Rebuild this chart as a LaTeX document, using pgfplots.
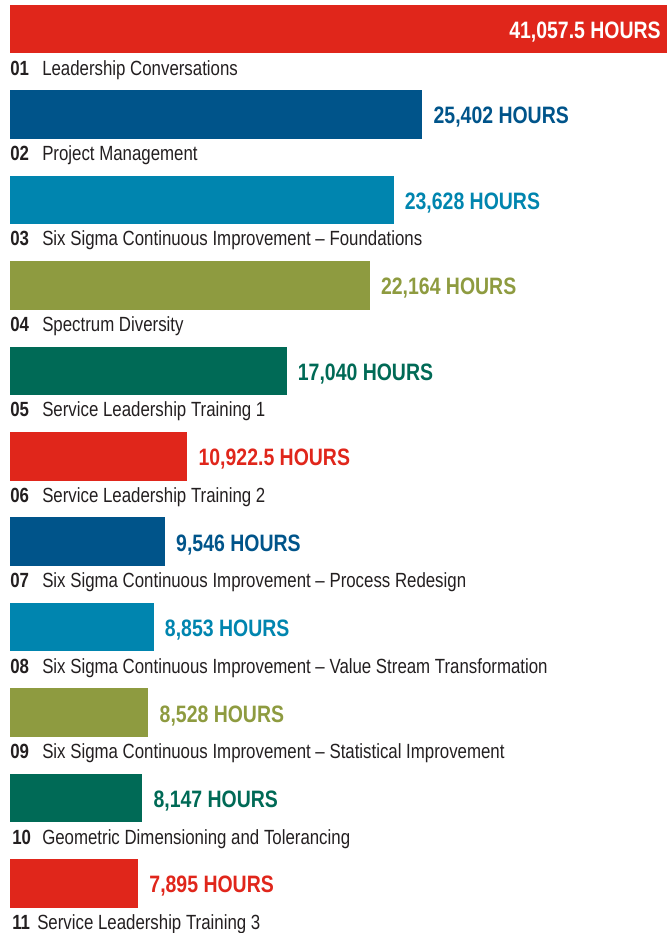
\documentclass[border=0pt]{standalone}
\usepackage{fontspec}
\setmainfont{Liberation Sans}[FakeStretch=0.82]
\usepackage{pgfplots}
\pgfplotsset{compat=1.18}

\definecolor{cred}{RGB}{224,38,27}
\definecolor{cblue}{RGB}{0,84,138}
\definecolor{clight}{RGB}{0,133,175}
\definecolor{colive}{RGB}{142,155,64}
\definecolor{cgreen}{RGB}{0,106,86}
\definecolor{ctext}{RGB}{35,31,32}

\newcommand\labfont{\fontsize{15.4pt}{18pt}\selectfont}
\newcommand\valfont{\fontsize{17.8pt}{20pt}\selectfont\bfseries}

\begin{document}
\begin{tikzpicture}[
  lab/.style={anchor=base west, inner sep=0pt, font=\labfont, text=ctext, yshift=-1.5pt},
  num/.style={anchor=base west, inner sep=0pt, font=\labfont\bfseries, text=ctext, yshift=-1.5pt}]
\begin{axis}[scale only axis, width=500.25pt, height=699.75pt,
  xmin=-616, xmax=40471, ymin=0, ymax=933, y dir=reverse, hide axis,
  xbar, bar width=48.5, bar shift=0, point meta=explicit symbolic,
  hbar/.style={draw=none, fill=#1, nodes near coords,
    every node near coord/.append style={anchor=base west, inner sep=0pt,
      xshift=8.25pt, yshift=-7.1pt, font=\valfont, text=#1}}]

% hours per course, bar centre in picture rows
\addplot[draw=none, fill=cred] coordinates {(41057.5,29) [{}]};
\addplot[hbar=cblue]  coordinates {(25402,114.45) [{25,402 HOURS}]};
\addplot[hbar=clight] coordinates {(23628,199.9) [{23,628 HOURS}]};
\addplot[hbar=colive] coordinates {(22164,285.35) [{22,164 HOURS}]};
\addplot[hbar=cgreen] coordinates {(17040,370.8) [{17,040 HOURS}]};
\addplot[hbar=cred]   coordinates {(10922.5,456.25) [{10,922.5 HOURS}]};
\addplot[hbar=cblue]  coordinates {(9546,541.7) [{9,546 HOURS}]};
\addplot[hbar=clight] coordinates {(8853,627.15) [{8,853 HOURS}]};
\addplot[hbar=colive] coordinates {(8528,712.6) [{8,528 HOURS}]};
\addplot[hbar=cgreen] coordinates {(8147,798.05) [{8,147 HOURS}]};
\addplot[hbar=cred]   coordinates {(7895,883.5) [{7,895 HOURS}]};

\node[anchor=base east, inner sep=0pt, font=\valfont, text=white, yshift=-7.1pt]
  at (axis cs:40100,29) {41,057.5 HOURS};

\node[num] at (axis cs:0,73) {01};
\node[lab] at (axis cs:1971,73) {Leadership Conversations};
\node[num] at (axis cs:0,158.45) {02};
\node[lab] at (axis cs:1971,158.45) {Project Management};
\node[num] at (axis cs:0,243.9) {03};
\node[lab] at (axis cs:1971,243.9) {Six Sigma Continuous Improvement – Foundations};
\node[num] at (axis cs:0,329.35) {04};
\node[lab] at (axis cs:1971,329.35) {Spectrum Diversity};
\node[num] at (axis cs:0,414.8) {05};
\node[lab] at (axis cs:1971,414.8) {Service Leadership Training 1};
\node[num] at (axis cs:0,500.25) {06};
\node[lab] at (axis cs:1971,500.25) {Service Leadership Training 2};
\node[num] at (axis cs:0,585.7) {07};
\node[lab] at (axis cs:1971,585.7) {Six Sigma Continuous Improvement – Process Redesign};
\node[num] at (axis cs:0,671.15) {08};
\node[lab] at (axis cs:1971,671.15) {Six Sigma Continuous Improvement – Value Stream Transformation};
\node[num] at (axis cs:0,756.6) {09};
\node[lab] at (axis cs:1971,756.6) {Six Sigma Continuous Improvement – Statistical Improvement};
\node[num] at (axis cs:123,842.05) {10};
\node[lab] at (axis cs:1971,842.05) {Geometric Dimensioning and Tolerancing};
\node[num] at (axis cs:123,927.5) {11};
\node[lab] at (axis cs:1663,927.5) {Service Leadership Training 3};
\end{axis}
\path (current axis.south west) rectangle (current axis.north east);
\end{tikzpicture}
\end{document}
